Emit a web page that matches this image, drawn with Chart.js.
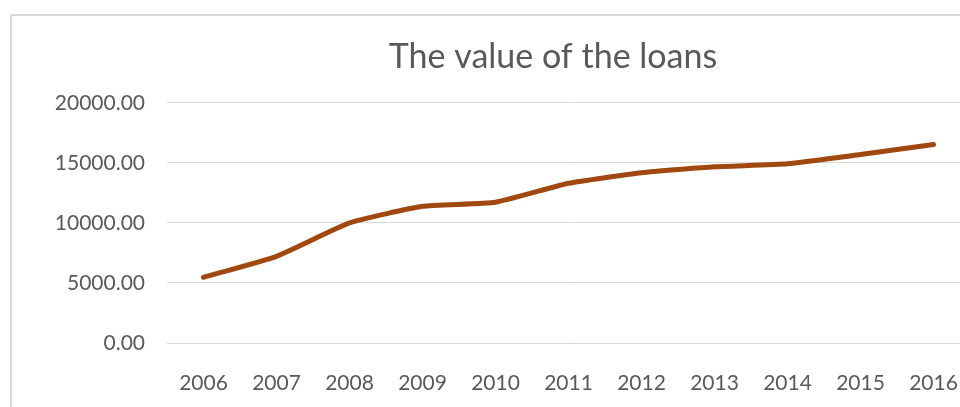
<!DOCTYPE html>
<html>
<head>
<meta charset="utf-8">
<script src="https://cdn.jsdelivr.net/npm/chart.js@4"></script>
<style>
  html, body { margin: 0; padding: 0; background: #fff; overflow: hidden; width: 960px; height: 407px; }
  #box { position: absolute; left: 10px; top: 14px; border-left: 2px solid #d9d9d9; border-top: 2px solid #d9d9d9; width: 1082px; height: 420px; }
  #wrap { position: relative; width: 1082px; height: 391px; }
</style>
</head>
<body>
<div id="box"><div id="wrap"><canvas id="loanChart"></canvas></div></div>
<script>
const ctx = document.getElementById('loanChart').getContext('2d');

// data
const years = ['2006', '2007', '2008', '2009', '2010', '2011', '2012', '2013', '2014', '2015', '2016'];
const loanValues = [5470, 7220, 10000, 11380, 11720, 13300, 14170, 14670, 14920, 15690, 16520];
const yTicks = [0, 5000, 10000, 15000, 20000];

const textColor = '#595959';
const fontFamily = 'Lato, "Open Sans", sans-serif';

const chart = new Chart(ctx, {
    type: 'line',
    data: {
        labels: years,
        datasets: [{
            label: 'The value of the loans',
            data: loanValues,
            borderColor: '#A0480F',
            borderWidth: 5,
            pointRadius: 0,
            pointHoverRadius: 0,
            fill: false,
            tension: 0.15,
            borderCapStyle: 'round',
            borderJoinStyle: 'round'
        }]
    },
    options: {
        responsive: true,
        maintainAspectRatio: false,
        animation: false,
        layout: { padding: 0 },
        scales: {
            x: {
                offset: true,
                grid: { display: false },
                border: { display: false },
                ticks: { color: textColor, font: { family: fontFamily, size: 21 }, padding: 20, maxRotation: 0 },
                afterFit: s => { s.height = 64; }
            },
            y: {
                min: yTicks[0],
                max: yTicks[yTicks.length - 1],
                afterBuildTicks: s => { s.ticks = yTicks.map(v => ({ value: v })); },
                grid: { color: '#d9d9d9', lineWidth: 1, drawTicks: false },
                border: { display: false },
                ticks: {
                    color: textColor,
                    font: { family: fontFamily, size: 21 },
                    padding: 22,
                    callback: v => Number(v).toFixed(2)
                },
                afterFit: s => { s.width = 155; }
            },
            // empty space on the right, cut off in the picture
            yRight: {
                position: 'right',
                display: true,
                grid: { display: false },
                border: { display: false },
                ticks: { display: false },
                afterFit: s => { s.width = 124; }
            }
        },
        plugins: {
            legend: { display: false },
            tooltip: { enabled: false },
            title: {
                display: true,
                text: 'The value of the loans',
                color: textColor,
                font: { family: fontFamily, size: 34, weight: 'normal' },
                padding: { top: 21, bottom: 25 }
            }
        }
    }
});
</script>
</body>
</html>
